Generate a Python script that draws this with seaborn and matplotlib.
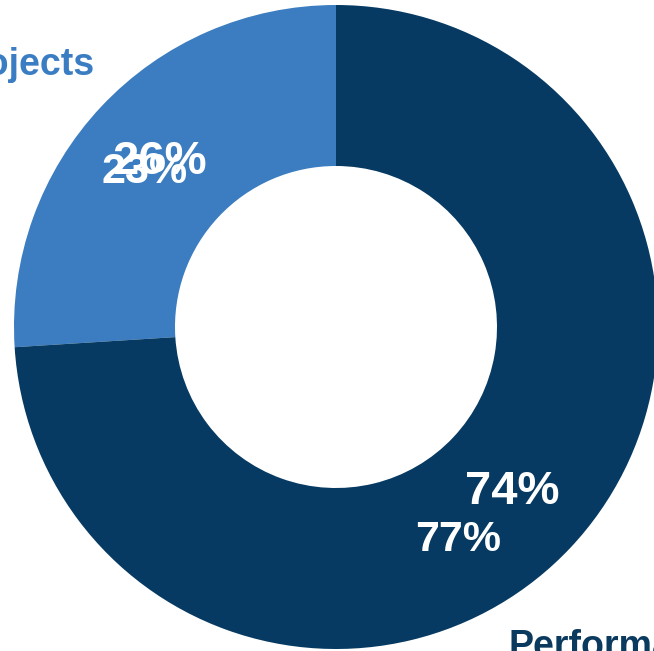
import matplotlib
matplotlib.use("Agg")
import matplotlib.pyplot as plt
import seaborn as sns

# Datos del grafico (dos series superpuestas)
categorias = ["Projects", "Performance"]
serie_a = [26, 74]   # donut visible
serie_b = [23, 77]   # segunda serie, solo quedan sus etiquetas

colores = ["#3B7DC0", "#063A62"]
colores_texto = ["#3A7DC2", "#0B3A5F"]

sns.set_theme(style="white")
plt.rcParams['font.family'] = ['Liberation Sans', 'DejaVu Sans']

fig = plt.figure(figsize=(6.54, 6.51), dpi=100)
ax = fig.add_axes([0, 0, 1, 1])

# Donut principal
wedges, _, pcts = ax.pie(
    serie_a,
    colors=colores,
    startangle=90,
    wedgeprops=dict(width=0.5, edgecolor='none'),
    autopct=lambda p: f"{p:.0f}%",
    pctdistance=0.75,
)
for t in pcts:
    t.set_color('white')
    t.set_fontsize(34)
    t.set_fontweight('bold')

# Segunda serie desplazada: sus cuñas quedan ocultas, solo los porcentajes
centro_b = (-0.107, -0.090)
wedges_b, _, pcts_b = ax.pie(
    serie_b,
    center=centro_b,
    startangle=89,
    wedgeprops=dict(width=0.5),
    autopct=lambda p: f"{p:.0f}%",
    pctdistance=0.75,
)
for w in wedges_b:
    w.set_visible(False)
for t in pcts_b:
    t.set_color('white')
    t.set_fontsize(31)
    t.set_fontweight('bold')

# Nombres de categoria
wedges_l, textos = ax.pie(
    serie_b,
    center=centro_b,
    startangle=84,
    labels=categorias,
    labeldistance=1.11,
)
for w in wedges_l:
    w.set_visible(False)
for t, c in zip(textos, colores_texto):
    t.set_color(c)
    t.set_fontsize(27)
    t.set_fontweight('bold')

# Encuadre recortado como en la imagen original
ax.set_xlim(-336 / 322, 318 / 322)
ax.set_ylim(-324 / 322, 327 / 322)
ax.axis('off')

fig.savefig('out.png', dpi=100)
